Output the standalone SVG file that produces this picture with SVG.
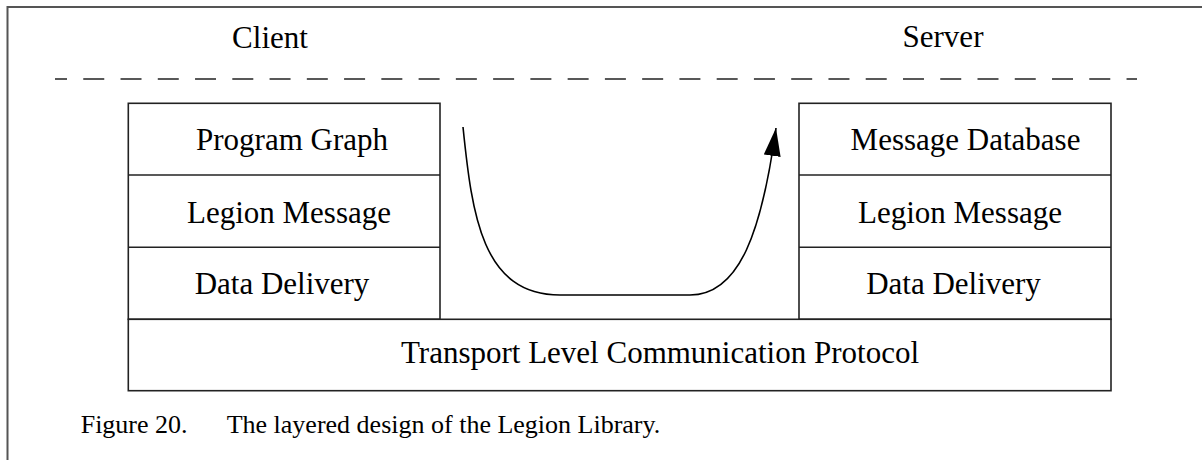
<svg xmlns="http://www.w3.org/2000/svg" width="1202" height="460" viewBox="0 0 1202 460">
<style>
  .frame{stroke:#555;stroke-width:2;fill:none}
  .box{stroke:#222;stroke-width:1.6;fill:#fff}
  .div{stroke:#222;stroke-width:1.6}
  .lbl{font-family:"Liberation Serif","Times New Roman",serif;font-size:31px;fill:#000;text-anchor:middle}
  .cap{font-family:"Liberation Serif","Times New Roman",serif;font-size:26px;fill:#000}
  .dash{stroke:#222;stroke-width:1.6;stroke-dasharray:21 16.26;stroke-dashoffset:9}
  .conn{stroke:#000;stroke-width:1.6;fill:none}
</style>
<defs>
  <marker id="ah" markerUnits="userSpaceOnUse" markerWidth="29" markerHeight="17" refX="28" refY="8.5" orient="auto" viewBox="0 0 29 17">
    <path d="M0,0 L28,8.5 L0,17 z" fill="#000"/>
  </marker>
</defs>
<rect width="1202" height="460" fill="#fff"/>
<g id="frame">
  <line class="frame" x1="7.5" y1="7" x2="1202" y2="7"/>
  <line class="frame" x1="7.5" y1="6" x2="7.5" y2="460"/>
</g>
<g id="titles">
  <text class="lbl" x="270" y="48">Client</text>
  <text class="lbl" x="943" y="47">Server</text>
  <line class="dash" x1="55" y1="79" x2="1137" y2="79"/>
</g>
<g id="client">
  <rect class="box" x="128.3" y="103.3" width="311.7" height="216"/>
  <line class="div" x1="128.3" y1="175" x2="440" y2="175"/>
  <line class="div" x1="128.3" y1="247.3" x2="440" y2="247.3"/>
</g>
<g id="client-program-graph"><text class="lbl" x="292" y="150">Program Graph</text></g>
<g id="client-legion-message"><text class="lbl" x="289" y="222.7">Legion Message</text></g>
<g id="client-data-delivery"><text class="lbl" x="282" y="294">Data Delivery</text></g>
<g id="server">
  <rect class="box" x="799" y="103.3" width="312" height="216"/>
  <line class="div" x1="799" y1="175" x2="1111" y2="175"/>
  <line class="div" x1="799" y1="247.3" x2="1111" y2="247.3"/>
</g>
<g id="server-message-database"><text class="lbl" x="965.5" y="150">Message Database</text></g>
<g id="server-legion-message"><text class="lbl" x="960" y="222.7">Legion Message</text></g>
<g id="server-data-delivery"><text class="lbl" x="953.5" y="294">Data Delivery</text></g>
<g id="transport">
  <rect class="box" x="128.3" y="319.3" width="982.7" height="71.4"/>
  <text class="lbl" x="660" y="362.7">Transport Level Communication Protocol</text>
</g>
<g id="connectors">
  <path class="conn" d="M463,127 C472,215 482,295 560,295 L690,295 C740,295 762,230 776,128" marker-end="url(#ah)"/>
</g>
<g id="caption">
  <text class="cap" x="80.7" y="432.7">Figure 20.</text>
  <text class="cap" x="226.7" y="432.7">The layered design of the Legion Library.</text>
</g>
</svg>
